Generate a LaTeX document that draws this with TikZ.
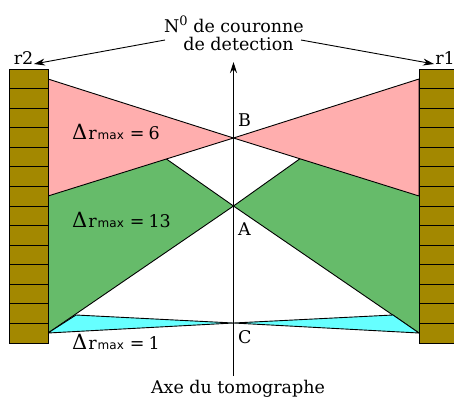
\documentclass[tikz,border=0pt]{standalone}
\usepackage{fontspec}
\setmainfont{DejaVu Serif}
\setsansfont{DejaVu Sans}
\usetikzlibrary{arrows.meta, positioning, calc}
\definecolor{Brique}{HTML}{A38800}
\definecolor{Rose}{HTML}{FFAEAE}
\definecolor{Vert}{HTML}{66BB6A}
\definecolor{Cyan}{HTML}{66FFFF}
\newcommand{\drmax}[1]{{\fontsize{21}{21}\selectfont Δ}\kern1pt r{\sffamily\fontsize{12}{12}\selectfont\kern1pt max}\kern6pt=\kern4pt#1}
\tikzset{
  lbl/.style={font=\fontsize{17.5}{20}\selectfont, inner sep=0pt, align=center},
  sect/.style={draw=black, line width=0.9pt, line join=miter},
  brique/.style={draw=black, line width=0.9pt, fill=Brique},
  flow/.style={-{Stealth[length=11pt,width=7pt]}, line width=0.9pt},
}
\begin{document}
\begin{tikzpicture}[x=1pt, y=-1pt]
  \useasboundingbox (0,0) rectangle (454,402);
  % points on the axis
  \coordinate (B) at (233.5,138);
  \coordinate (A) at (233.5,206);
  \coordinate (C) at (233.5,323);
  % green
  \fill[Vert] (48,196) -- (165,158) -- (A) -- (48,333) -- cycle;
  \fill[Vert] (419,196) -- (301,158) -- (A) -- (419,333) -- cycle;
  \draw[sect] (165,158) -- (A) -- (48,333);
  \draw[sect] (301,158) -- (A) -- (419,333);
  % cyan
  \draw[sect, fill=Cyan] (48,333) -- (76,315) -- (C) -- cycle;
  \draw[sect, fill=Cyan] (419,333) -- (393,315) -- (C) -- cycle;
  % pink
  \draw[sect, fill=Rose] (48,79) -- (B) -- (48,196) -- cycle;
  \draw[sect, fill=Rose] (419,79) -- (B) -- (419,196) -- cycle;
  % detectors
  \foreach \i in {0,...,13} {
    \draw[brique] (9,69+\i*19.57) rectangle (48,69+\i*19.57+19.57);
    \draw[brique] (419,69+\i*19.57) rectangle (460,69+\i*19.57+19.57);
  }
  % axis
  \coordinate (axbas) at (233.5,376);
  \coordinate (axhaut) at (233.5,62);
  \draw[flow] (axbas) -- (axhaut);
  % labels
  \node[lbl] (titre1) at (234,24) {N{\fontsize{13}{13}\selectfont\raisebox{7pt}{0}} de couronne};
  \node[lbl] (titre2) at (238.5,44) {de detection};
  \node[lbl] (axe) at (238,389) {Axe du tomographe};
  \node[lbl] (r2) at (23.5,58) {r2};
  \node[lbl] (r1) at (445,58) {r1};
  \node[lbl, right] (lB) at (238,120) {B};
  \node[lbl, right] (lA) at (238,229) {A};
  \node[lbl, right] (lC) at (238,337) {C};
  \node[lbl, right] (d6) at (72,132) {\drmax{6}};
  \node[lbl, right] (d13) at (72,220) {\drmax{13}};
  \node[lbl, right] (d1) at (72,342) {\drmax{1}};
  % arrows to the rings
  \coordinate (fl) at (165,40);
  \coordinate (fr) at (301,40);
  \coordinate (tl) at (34,64);
  \coordinate (tr) at (434,64);
  \draw[flow] (fl) -- (tl);
  \draw[flow] (fr) -- (tr);
\end{tikzpicture}
\end{document}
